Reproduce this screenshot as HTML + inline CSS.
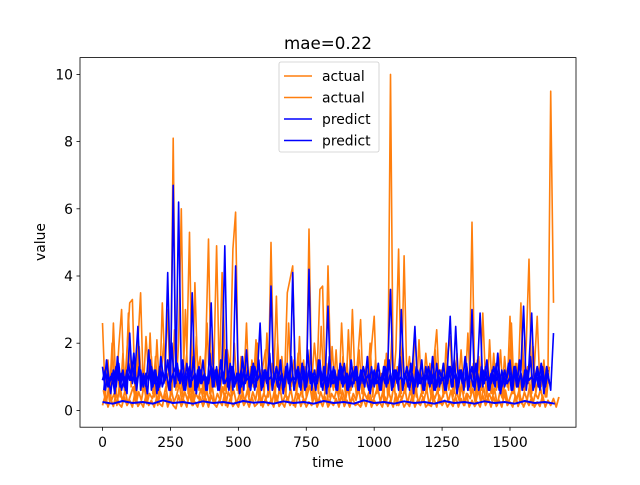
<!DOCTYPE html>
<html><head><meta charset="utf-8"><style>
body{margin:0;background:#fff;}
svg text{font-family:"DejaVu Sans","Liberation Sans",sans-serif;fill:#000;}
</style></head><body>
<svg id="chart" width="640" height="480" xmlns="http://www.w3.org/2000/svg">
<rect x="0" y="0" width="640" height="480" fill="#fff"/>
<g id="plot"></g>
<rect x="80" y="57.6" width="496" height="369.6" fill="none" stroke="#000" stroke-width="0.8"/>
<g id="xt"></g>
<g id="yt"></g>
<text x="328" y="49" font-size="16.7" text-anchor="middle">mae=0.22</text>
<text x="328" y="467" font-size="13.9" text-anchor="middle">time</text>
<text x="0" y="0" font-size="13.9" text-anchor="middle" transform="translate(45,242) rotate(-90)">value</text>
<g>
<rect x="279" y="62" width="100" height="90" rx="2" fill="#fff" fill-opacity="0.8" stroke="#ccc" stroke-width="0.8"/>
<g><line x1="284" y1="76" x2="312" y2="76" stroke="#ff7f0e" stroke-width="1.5"/><text x="322" y="81" font-size="13.9">actual</text></g>
<g><line x1="284" y1="97.5" x2="312" y2="97.5" stroke="#ff7f0e" stroke-width="1.5"/><text x="322" y="102.5" font-size="13.9">actual</text></g>
<g><line x1="284" y1="119" x2="312" y2="119" stroke="#0000ff" stroke-width="1.5"/><text x="322" y="124" font-size="13.9">predict</text></g>
<g><line x1="284" y1="140.5" x2="312" y2="140.5" stroke="#0000ff" stroke-width="1.5"/><text x="322" y="145.5" font-size="13.9">predict</text></g>
</g>
</svg>
<script>
const xTicks=[0,250,500,750,1000,1250,1500];
const yTicks=[0,2,4,6,8,10];
const step=10;
const actualSpiky=[2.6,0.4,1.5,0.3,2.6,0.5,1.9,3.0,0.6,1.8,3.2,3.3,0.4,2.0,3.5,0.6,2.2,1.0,1.6,0.4,2.1,0.5,3.2,1.2,3.0,0.4,8.1,0.6,2.0,6.0,0.8,1.7,5.3,0.5,3.8,1.1,1.6,0.5,1.9,5.1,0.7,1.4,4.9,1.0,4.1,0.6,1.8,1.2,4.8,5.9,0.5,1.6,0.8,2.6,0.4,1.5,0.9,2.0,0.5,1.3,1.8,0.4,5.0,0.9,3.4,0.5,1.6,0.8,3.5,3.9,4.3,0.6,1.7,0.9,1.5,0.4,5.4,0.8,2.0,1.1,3.6,3.7,0.5,4.3,1.2,0.6,1.8,0.4,2.6,0.9,1.4,0.5,3.0,0.7,1.6,2.7,0.4,1.3,0.8,1.9,2.8,0.5,1.2,0.6,1.5,0.4,10.0,0.7,1.8,4.8,0.5,4.6,1.0,1.6,0.4,2.4,0.8,1.3,0.5,1.7,0.9,0.4,1.5,2.4,0.6,1.2,0.5,1.6,2.2,0.4,1.1,0.7,1.8,0.5,1.4,0.6,5.6,0.8,1.5,0.4,2.9,0.9,1.3,0.5,1.7,0.6,1.2,0.4,1.6,0.7,2.8,0.5,1.4,0.8,3.2,0.6,2.0,4.5,0.5,1.3,2.8,0.7,1.1,0.4,1.2,9.5,3.2];
const actualMid=[0.5,1.4,0.3,2.0,0.6,1.2,0.4,1.7,0.5,2.9,0.7,1.3,0.4,1.9,0.6,1.1,0.3,2.3,0.5,1.6,0.4,1.0,2.0,0.6,1.4,0.5,2.4,0.7,1.2,0.4,3.0,0.5,1.6,0.3,2.2,0.6,1.3,0.4,2.6,0.5,1.8,0.7,1.2,0.4,3.1,0.5,1.5,0.3,2.0,0.6,1.1,0.4,1.7,0.5,1.3,0.7,2.1,0.4,1.2,0.5,2.3,0.6,1.4,0.3,2.0,0.5,1.1,0.4,2.6,0.7,1.5,0.5,2.2,0.4,1.3,0.6,1.8,0.3,1.2,0.5,2.5,0.6,1.4,0.4,1.9,0.7,1.1,0.5,1.6,0.3,2.4,0.6,1.3,0.4,1.8,0.5,1.2,0.7,2.0,0.4,1.5,0.6,1.1,0.3,1.7,0.5,2.2,0.6,1.3,0.4,1.9,0.5,1.2,0.7,1.6,0.4,2.1,0.5,1.1,0.6,1.4,0.3,1.8,0.5,1.2,0.4,2.0,0.6,1.3,0.5,1.7,0.4,1.1,0.7,2.3,0.5,1.4,0.3,1.6,0.6,1.2,0.4,2.1,0.5,1.3,0.7,1.8,0.4,1.2,0.6,2.6,0.5,1.4,0.3,2.2,0.6,1.3,0.4,1.9,0.5,1.1,0.7,1.5,0.4,1.3];
const actualLow=[0.15,0.45,0.1,0.35,0.12,0.5,0.2,0.1,0.4,0.15,0.3,0.1,0.55,0.12,0.25,0.1,0.45,0.15,0.3,0.1,0.4,0.2,0.12,0.5,0.1,0.35,0.15,0.05,0.45,0.12,0.3,0.1,0.5,0.15,0.25,0.1,0.4,0.12,0.35,0.1,0.45,0.2,0.1,0.3,0.15,0.5,0.1,0.35,0.12,0.25,0.1,0.45,0.15,0.3,0.1,0.4,0.12,0.2,0.5,0.1,0.35,0.15,0.3,0.1,0.45,0.12,0.25,0.1,0.4,0.15,0.3,0.1,0.5,0.12,0.35,0.1,0.25,0.15,0.45,0.1,0.3,0.12,0.4,0.1,0.25,0.15,0.35,0.1,0.45,0.12,0.3,0.1,0.4,0.15,0.2,0.1,0.35,0.12,0.45,0.1,0.3,0.15,0.25,0.1,0.4,0.12,0.3,0.1,0.5,0.15,0.35,0.1,0.25,0.12,0.45,0.1,0.3,0.15,0.4,0.1,0.2,0.12,0.35,0.1,0.45,0.15,0.3,0.1,0.25,0.12,0.4,0.1,0.35,0.15,0.5,0.1,0.3,0.12,0.25,0.1,0.45,0.15,0.35,0.1,0.4,0.12,0.3,0.1,0.5,0.15,0.25,0.1,0.45,0.12,0.35,0.1,0.3,0.15,0.4,0.1,0.25,0.12,0.45,0.1,0.3,0.15,0.35,0.1,0.4];
const actualLow2=[0.6,0.2,0.7,0.3,0.5,0.15,0.8,0.25,0.6,0.2,0.45,0.7,0.2,0.55,0.3,0.75,0.2,0.5,0.35,0.65,0.15,0.55,0.3,0.7,0.2,0.6,0.25,0.45,0.8,0.2,0.55,0.3,0.7,0.15,0.5,0.35,0.65,0.2,0.6,0.25,0.75,0.2,0.5,0.3,0.7,0.15,0.55,0.35,0.6,0.2,0.45,0.7,0.25,0.6,0.2,0.55,0.3,0.75,0.15,0.5,0.35,0.65,0.2,0.6,0.25,0.7,0.2,0.5,0.3,0.65,0.15,0.55,0.35,0.6,0.2,0.45,0.75,0.25,0.6,0.2,0.55,0.3,0.7,0.15,0.5,0.35,0.65,0.2,0.6,0.25,0.7,0.2,0.5,0.3,0.65,0.15,0.55,0.35,0.6,0.2,0.45,0.7,0.25,0.6,0.2,0.55,0.3,0.75,0.15,0.5,0.35,0.65,0.2,0.6,0.25,0.7,0.2,0.5,0.3,0.65,0.15,0.55,0.35,0.6,0.2,0.45,0.7,0.25,0.6,0.2,0.55,0.3,0.75,0.15,0.5,0.35,0.65,0.2,0.6,0.25,0.7,0.2,0.5,0.3,0.65,0.15,0.55,0.35,0.6,0.2,0.45,0.7,0.25,0.6,0.2,0.55,0.3,0.75,0.15,0.5,0.35,0.65,0.2];
const predictBand=[1.3,0.6,1.1,0.5,1.2,0.7,1.4,0.6,1.0,0.5,2.3,0.8,1.2,2.5,0.6,1.1,0.7,1.8,0.6,1.2,0.5,1.3,0.7,1.0,4.1,0.6,6.7,0.8,6.2,1.0,0.6,1.4,0.7,3.5,0.6,1.2,0.8,1.5,0.6,1.1,3.2,0.7,1.3,0.6,1.2,4.9,0.7,1.4,0.6,4.3,0.8,1.2,0.6,1.8,0.7,1.3,0.6,1.1,2.6,0.7,1.2,0.6,3.7,0.8,1.3,0.6,1.1,0.7,1.4,0.6,4.1,0.8,1.2,0.6,1.3,0.7,4.2,0.6,1.2,0.8,1.5,0.6,1.1,3.1,0.7,1.3,0.6,1.2,0.8,1.4,0.6,1.1,0.7,1.3,0.6,1.2,0.8,1.0,0.6,1.3,0.7,1.2,0.6,1.1,0.8,1.4,3.6,0.7,1.2,0.6,3.0,0.8,1.3,0.6,1.2,2.5,0.7,1.1,0.6,1.3,0.8,1.2,0.6,1.4,0.7,1.1,0.6,1.3,2.8,0.7,2.5,0.8,1.2,0.6,1.4,0.7,3.0,0.6,1.2,2.9,0.7,1.3,0.6,1.1,0.8,1.4,0.6,1.2,0.7,1.0,1.5,0.6,1.3,0.7,1.2,3.1,0.6,1.4,2.9,0.7,1.2,0.6,1.3,0.7,1.1,0.6,2.3];
const predictBand2=[0.9,1.2,0.7,1.0,0.8,1.3,0.9,1.1,0.7,1.2,0.9,1.4,0.8,1.0,1.2,0.7,1.1,0.9,1.3,0.8,1.0,0.7,1.2,0.9,1.5,0.8,1.1,1.3,0.9,1.2,0.8,1.0,1.3,0.9,1.1,0.7,1.2,0.9,1.0,0.8,1.3,0.9,1.1,0.7,1.2,0.8,1.0,0.9,1.3,0.8,1.1,0.7,1.2,0.9,1.0,0.8,1.3,0.9,1.1,0.7,1.2,0.9,1.0,0.8,1.3,0.9,1.1,0.7,1.2,0.8,1.0,0.9,1.3,0.8,1.1,0.7,1.2,0.9,1.0,0.8,1.3,0.9,1.1,0.7,1.2,0.8,1.0,0.9,1.3,0.8,1.1,0.7,1.2,0.9,1.0,0.8,1.3,0.9,1.1,0.7,1.2,0.8,1.0,0.9,1.3,0.8,1.1,0.7,1.2,0.9,1.0,0.8,1.3,0.9,1.1,0.7,1.2,0.8,1.0,0.9,1.3,0.8,1.1,0.7,1.2,0.9,1.0,0.8,1.3,0.9,1.1,0.7,1.2,0.8,1.0,0.9,1.3,0.8,1.1,0.7,1.2,0.9,1.0,0.8,1.3,0.9,1.1,0.7,1.2,0.8,1.0,0.9,1.3,0.8,1.1,0.7,1.2,0.9,1.0,0.8,1.3,0.9,1.1,0.7,1.2];
const predictBand3=[0.6,1.5,0.8,1.1,0.5,1.6,0.7,1.2,0.6,1.4,0.9,1.7,0.6,1.3,0.8,1.0,0.5,1.5,0.7,1.2,0.6,1.6,0.8,1.1,0.6,2.0,0.7,1.4,0.8,1.5,0.6,1.2,0.7,1.6,0.5,1.3,0.8,1.1,0.6,1.7,0.7,1.2,0.6,1.5,0.8,1.8,0.6,1.3,0.7,1.1,0.5,1.6,0.8,1.2,0.6,1.4,0.7,1.5,0.6,1.2,0.8,1.7,0.6,1.1,0.7,1.5,0.5,1.3,0.8,1.6,0.6,1.2,0.7,1.4,0.6,1.8,0.8,1.1,0.6,1.5,0.7,1.3,0.5,1.6,0.8,1.2,0.6,1.4,0.7,1.1,0.6,1.5,0.8,1.3,0.6,1.2,0.7,1.6,0.5,1.1,0.8,1.4,0.6,1.3,0.7,1.5,0.6,1.2,0.8,1.6,0.6,1.1,0.7,1.4,0.5,1.3,0.8,1.5,0.6,1.2,0.7,1.6,0.6,1.1,0.8,1.4,0.6,1.3,0.7,1.5,0.5,1.2,0.8,1.6,0.6,1.1,0.7,1.4,0.6,1.3,0.8,1.5,0.6,1.2,0.7,1.7,0.5,1.1,0.8,1.4,0.6,1.3,0.7,1.5,0.6,1.2,0.8,1.6,0.6,1.1,0.7,1.4,0.5,1.3,0.8];
const predictLow=[0.25,0.2,0.28,0.22,0.25,0.2,0.3,0.22,0.25,0.2,0.27,0.22,0.25,0.2,0.28,0.23,0.25,0.2,0.27,0.22,0.25,0.2,0.28,0.22,0.25,0.2,0.3,0.22,0.25,0.2,0.27,0.22,0.25,0.2,0.28,0.22,0.25,0.2,0.27,0.22,0.25,0.2,0.28,0.22,0.25,0.2];
const lowStep=37;

const X0=80,X1=576,Y0=57.6,Y1=427.2,xmin=-83,xmax=1743,ymin=-0.5,ymax=10.5;
const xs=v=>X0+(v-xmin)/(xmax-xmin)*(X1-X0);
const ys=v=>Y1-(v-ymin)/(ymax-ymin)*(Y1-Y0);
const NS='http://www.w3.org/2000/svg';
const plot=document.getElementById('plot');
function line(vals,st,off,color,w,name){
  const p=document.createElementNS(NS,'polyline');
  p.setAttribute('points',vals.map((v,i)=>xs(off+i*st).toFixed(1)+','+ys(v).toFixed(1)).join(' '));
  p.setAttribute('fill','none');p.setAttribute('stroke',color);p.setAttribute('stroke-width',w);
  p.setAttribute('stroke-linejoin','round');
  
  
  plot.appendChild(p);
}
line(actualSpiky,step,0,'#ff7f0e',1.6,'actual-series-1');
line(actualMid,step,5,'#ff7f0e',1.6,'actual-series-1b');
line(actualLow2,step,3,'#ff7f0e',1.8,'actual-series-2b');
line(actualLow,step,0,'#ff7f0e',1.8,'actual-series-2');
line(predictBand2,step,0,'#0000ff',1.8,'predict-series-2');
line(predictBand3,step,5,'#0000ff',1.8,'predict-series-3');
line(predictBand,step,0,'#0000ff',1.6,'predict-series-1');
line(predictLow,lowStep,0,'#0000ff',2,'predict-baseline');
const xt=document.getElementById('xt');
xTicks.forEach(t=>{
  const g=document.createElementNS(NS,'g');
  
  
  const x=xs(t);
  g.innerHTML=`<line x1="${x}" y1="427.2" x2="${x}" y2="430.7" stroke="#000" stroke-width="0.8"/><text x="${x}" y="447" font-size="13.9" text-anchor="middle">${t}</text>`;
  xt.appendChild(g);
});
const yt=document.getElementById('yt');
yTicks.forEach(t=>{
  const g=document.createElementNS(NS,'g');
  
  
  const y=ys(t);
  g.innerHTML=`<line x1="76.5" y1="${y}" x2="80" y2="${y}" stroke="#000" stroke-width="0.8"/><text x="73" y="${y+5}" font-size="13.9" text-anchor="end">${t}</text>`;
  yt.appendChild(g);
});
</script>
</body></html>
